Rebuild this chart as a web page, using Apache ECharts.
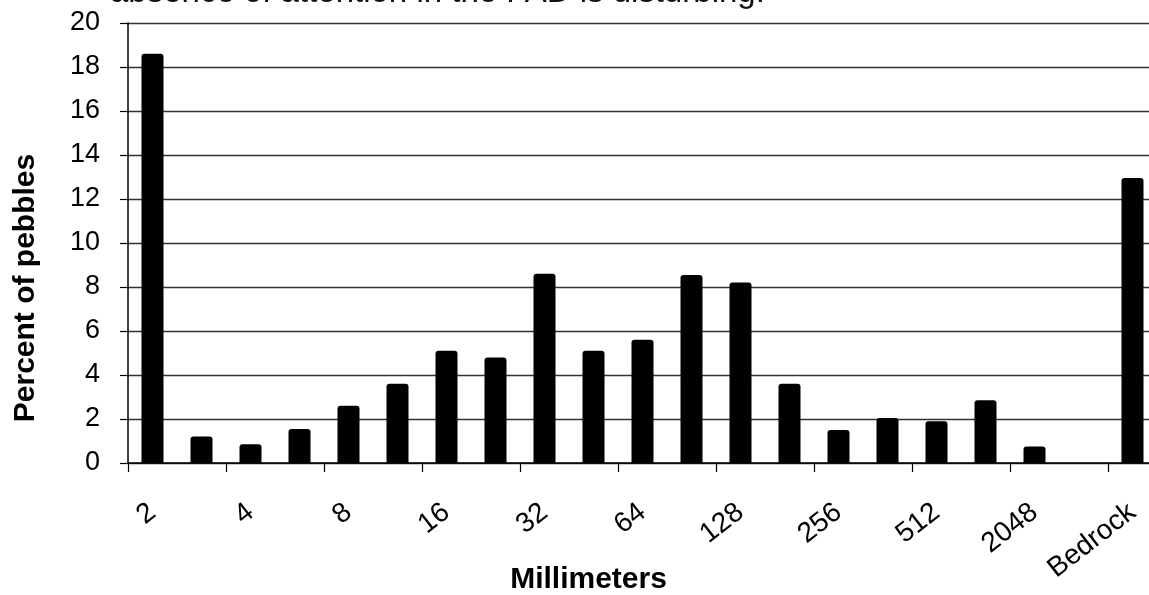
<!DOCTYPE html>
<html>
<head>
<meta charset="utf-8">
<script src="https://cdn.jsdelivr.net/npm/echarts@6/dist/echarts.min.js"></script>
<style>
html,body{margin:0;padding:0;background:#fff;}
#chart{width:1149px;height:595px;}
</style>
</head>
<body>
<div id="chart"></div>
<script>
// Size classes (mm); only every other label is shown in the figure
var categories = ['2','2.8','4','5.6','8','11','16','22.6','32','45','64','90','128','180','256','362','512','1024','2048','4096','Bedrock'];
var percentValues = [18.6, 1.2, 0.85, 1.55, 2.6, 3.6, 5.1, 4.8, 8.6, 5.1, 5.6, 8.55, 8.2, 3.6, 1.5, 2.05, 1.9, 2.85, 0.75, 0, 12.95];
var yTicks = {min: 0, max: 20, interval: 2};
var captionText = 'absence of attention in the FAD is disturbing.';
var xTitle = 'Millimeters';
var yTitle = 'Percent of pebbles';

var FONT = "'Liberation Sans', Arial, sans-serif";
var chart = echarts.init(document.getElementById('chart'), null, {renderer: 'canvas'});
chart.setOption({
  animation: false,
  backgroundColor: '#fff',
  grid: {left: 128, right: -8, top: 23, bottom: 132, containLabel: false, outerBoundsMode: 'none'},
  graphic: [{
    type: 'text',
    left: 110,
    top: -24,
    style: {text: captionText, font: "33px " + FONT, fill: '#111'}
  }],
  xAxis: {
    type: 'category',
    data: categories,
    name: xTitle,
    nameLocation: 'middle',
    nameGap: 102,
    nameMoveOverlap: false,
    nameTextStyle: {fontFamily: FONT, fontSize: 30, fontWeight: 'bold', color: '#000', padding: [0, 108, 0, 0]},
    axisLine: {lineStyle: {color: '#000', width: 1.5}},
    axisTick: {show: true, alignWithLabel: false, length: 9, lineStyle: {color: '#000', width: 1.2}},
    axisLabel: {interval: 1, rotate: 38, margin: 46, fontFamily: FONT, fontSize: 28, color: '#000'},
    splitLine: {show: false}
  },
  yAxis: {
    type: 'value',
    min: yTicks.min,
    max: yTicks.max,
    interval: yTicks.interval,
    name: yTitle,
    nameLocation: 'middle',
    nameGap: 87,
    nameMoveOverlap: false,
    nameTextStyle: {fontFamily: FONT, fontSize: 30, fontWeight: 'bold', color: '#000', padding: [0, 90, 0, 0]},
    axisLine: {show: true, lineStyle: {color: '#000', width: 1.5}},
    axisTick: {show: true, length: 8, lineStyle: {color: '#000', width: 1.2}},
    axisLabel: {margin: 28, fontFamily: FONT, fontSize: 27, color: '#000'},
    splitLine: {show: true, lineStyle: {color: '#333', width: 1.4}}
  },
  series: [{
    type: 'bar',
    data: percentValues,
    barWidth: 22,
    itemStyle: {color: '#000', borderRadius: [3, 3, 0, 0]}
  }]
});
</script>
</body>
</html>
